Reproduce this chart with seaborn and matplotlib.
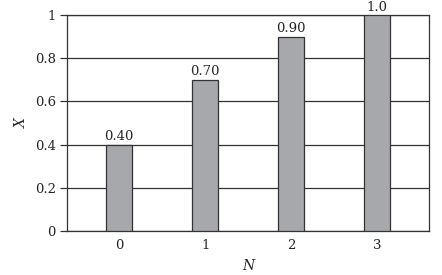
import matplotlib
matplotlib.use("Agg")
import matplotlib.pyplot as plt
import seaborn as sns
import pandas as pd

N = ["0", "1", "2", "3"]
X = [0.40, 0.70, 0.90, 1.0]
bar_labels = ["0.40", "0.70", "0.90", "1.0"]
yticks = [0, 0.2, 0.4, 0.6, 0.8, 1]
ytick_labels = ["0", "0.2", "0.4", "0.6", "0.8", "1"]

sns.set_style("white")
plt.rcParams['font.family'] = ['DejaVu Serif']

df = pd.DataFrame({"N": N, "X": X})
fig = plt.figure(figsize=(4.42, 2.75), dpi=100)
ax = fig.add_axes([67/442, 44/275, (429-67)/442, (231-15)/275])
sns.barplot(data=df, x="N", y="X", order=N, width=0.3, color="#a7a8ab",
            saturation=1, edgecolor="#333333", linewidth=0.9, ax=ax, zorder=3)
ax.set_xlim(-0.605, 3.6)
ax.set_ylim(0, 1)
ax.set_yticks(yticks)
ax.set_yticklabels(ytick_labels)
ax.yaxis.grid(True, color="#333333", linewidth=0.9, zorder=0)
ax.set_axisbelow(True)
for s in ax.spines.values():
    s.set_color("#333333")
    s.set_linewidth(0.9)
ax.tick_params(axis="y", direction="out", length=5, width=0.9, color="#333333",
               labelsize=9.5, pad=3, left=True)
ax.tick_params(axis="x", length=0, labelsize=9.5, pad=6)
for c in ax.containers:
    ax.bar_label(c, labels=bar_labels, fontsize=9.5, padding=1)
ax.set_xlabel("N", fontstyle="italic", fontsize=10, labelpad=5)
ax.set_ylabel("X", fontstyle="italic", fontsize=10, labelpad=4)
fig.savefig("out.png", dpi=100)
